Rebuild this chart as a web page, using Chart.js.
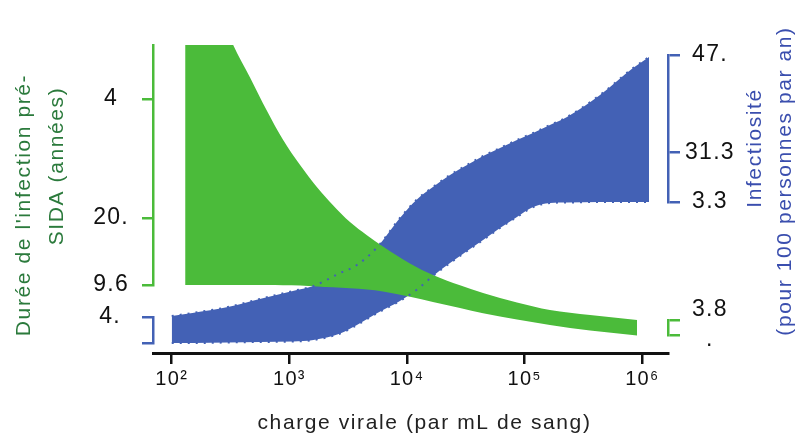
<!DOCTYPE html>
<html>
<head>
<meta charset="utf-8">
<script src="https://cdn.jsdelivr.net/npm/chart.js@4/dist/chart.umd.min.js"></script>
<style>
  html, body { margin: 0; padding: 0; background: #fff; }
</style>
</head>
<body>
<canvas id="chart" width="799" height="441"></canvas>
<script>
// Green band: duration of pre-AIDS infection (years) vs viral load
const greenLoad = [130, 174, 233, 333, 463, 646, 883, 1233, 1718, 2350, 3273, 4560, 6240, 10590, 16600, 28200, 44300, 86000, 164000, 360000, 902000];
const durHigh = [71.5, 63.7, 56.9, 49.6, 44.2, 38.6, 33.8, 29.6, 25.9, 22.9, 20.1, 17.9, 16.0, 13.2, 11.27, 9.55, 8.27, 6.68, 5.43, 4.59, 3.77];
const durLow = [9.6, 9.6, 9.6, 9.6, 9.6, 9.6, 9.55, 9.5, 9.35, 9.22, 9.05, 8.85, 8.52, 7.65, 6.77, 5.77, 4.88, 3.85, 2.93, 2.02, 1.18];

// Blue band: infectiousness (per 100 person-years) vs viral load
const blueLoad = [100, 150, 300, 560, 1070, 1600, 2700, 3750, 5600, 8700, 12000, 16600, 23200, 32400, 44300, 61700, 86000, 118000, 164000, 229000, 437000, 834000, 1140000];
const infHigh = [4.90, 5.39, 6.35, 7.65, 8.94, 9.74, 11.84, 13.13, 16.03, 20.71, 23.61, 25.71, 27.65, 29.26, 30.71, 32.00, 33.29, 34.42, 35.71, 37.00, 40.55, 44.90, 46.68];
const infLow = [0.55, 0.55, 0.63, 0.71, 0.79, 1.03, 2.08, 3.45, 5.39, 7.32, 9.10, 11.35, 13.45, 15.39, 17.16, 19.10, 20.87, 22.48, 23.13, 23.21, 23.29, 23.29, 23.29];

// Axis ticks (labels as printed on the figure)
const xTicks = [1e2, 1e3, 1e4, 1e5, 1e6];
const xTickLabels = ['10²', '10³', '10⁴', '10⁵', '10⁶'];
const durTicks = [40.6, 20.8, 9.6];
const durTickLabels = ['4', '20.', '9.6'];
const durSmallTicks = [3.8, 1.3, 5.47, 0.47];
const durSmallLabels = ['', '', '3.8', '.'];
const infTicks = [47, 31.3, 23.29];
const infTickLabels = ['47.', '31.3', '3.3'];
const infSmallTicks = [4.74, 0.55];
const infSmallLabels = ['4.', ''];

const xTitle = 'charge virale (par mL de sang)';
const durTitle = ["Durée de l'infection pré-", 'SIDA (années)'];
const infTitle = ['Infectiosité', '(pour 100 personnes par an)'];

const FONT = '"Liberation Sans", Arial, sans-serif';
const GREEN = '#4bbb3a';
const BLUE = '#4361b5';
const NONE = 'rgba(0,0,0,0)';

Chart.defaults.font.family = FONT;

function toPoints(xs, ys) {
    return xs.map((x, i) => ({ x: x, y: ys[i] }));
}

function fixedTicks(values) {
    return scale => { scale.ticks = values.map(v => ({ value: v })); };
}

function sideAxis(position, weight, stackWeight, min, max, values, labels, color, pad, tickColor) {
    return {
        type: 'linear',
        position: position,
        stack: position,
        weight: weight,
        stackWeight: stackWeight,
        min: min,
        max: max,
        afterBuildTicks: fixedTicks(values),
        afterFit: s => { s.width = position === 'left' ? 153 : 131; },
        ticks: {
            autoSkip: false,
            crossAlign: 'center',
            padding: pad,
            color: '#111',
            font: { size: 23 },
            callback: (v, i) => labels[i]
        },
        grid: {
            drawOnChartArea: false,
            tickLength: position === 'left' ? 11 : 12,
            lineWidth: 2.5,
            tickWidth: 2.5,
            tickColor: tickColor || color
        },
        border: { color: color, width: 2.5 }
    };
}

function gapAxis(position, weight, stackWeight) {
    return { type: 'linear', position: position, stack: position, weight: weight, stackWeight: stackWeight, display: false };
}

function drawUp(ctx, text, x, y, color) {
    ctx.save();
    ctx.translate(x, y);
    ctx.rotate(-Math.PI / 2);
    ctx.fillStyle = color;
    ctx.fillText(text, 0, 0);
    ctx.restore();
}

// Letter spacing for tick labels + axis titles
const textStyle = {
    id: 'textStyle',
    beforeLayout(chart) { chart.ctx.letterSpacing = '1.3px'; },
    beforeDraw(chart) { chart.ctx.letterSpacing = '1.3px'; },
    afterDraw(chart) {
        const ctx = chart.ctx;
        const a = chart.chartArea;
        ctx.save();
        ctx.font = '21px ' + FONT;
        ctx.letterSpacing = '1.6px';
        ctx.textAlign = 'center';
        ctx.textBaseline = 'middle';
        ctx.fillStyle = '#222';
        ctx.fillText(xTitle, (a.left + a.right) / 2 + 14, a.bottom + 70);
        drawUp(ctx, durTitle[0], a.left - 129, a.top + 160, '#2b7a3c');
        drawUp(ctx, durTitle[1], a.left - 96, a.top + 121, '#2b7a3c');
        drawUp(ctx, infTitle[0], a.right + 87, a.top + 103, '#3a4eae');
        drawUp(ctx, infTitle[1], a.right + 117, a.top + 136, '#3a4eae');
        ctx.restore();
    }
};

// the bands live on short stacked axes, so let them spill over the whole plot area
const greenClip = { left: 0, right: 0, top: 0, bottom: 68 };
const blueClip = { left: 0, right: 0, top: 10, bottom: 151 };

new Chart(document.getElementById('chart').getContext('2d'), {
    type: 'line',
    data: {
        datasets: [
            {
                label: 'Durée max',
                data: toPoints(greenLoad, durHigh),
                yAxisID: 'yDur',
                clip: greenClip,
                backgroundColor: GREEN,
                borderColor: NONE,
                fill: '+1',
                pointRadius: 0,
                cubicInterpolationMode: 'monotone'
            },
            {
                label: 'Durée min',
                data: toPoints(greenLoad, durLow),
                yAxisID: 'yDur',
                clip: greenClip,
                borderColor: NONE,
                fill: false,
                pointRadius: 0,
                cubicInterpolationMode: 'monotone'
            },
            {
                label: 'Infectiosité max',
                data: toPoints(blueLoad, infHigh),
                yAxisID: 'yInf',
                clip: blueClip,
                backgroundColor: BLUE,
                borderColor: BLUE,
                borderWidth: 2,
                borderDash: [2, 6],
                fill: '+1',
                pointRadius: 0,
                cubicInterpolationMode: 'monotone'
            },
            {
                label: 'Infectiosité min',
                data: toPoints(blueLoad, infLow),
                yAxisID: 'yInf',
                clip: blueClip,
                borderColor: BLUE,
                borderWidth: 2,
                borderDash: [2, 6],
                fill: false,
                pointRadius: 0,
                cubicInterpolationMode: 'monotone'
            }
        ]
    },
    options: {
        responsive: false,
        animation: false,
        layout: { padding: { top: 45, left: 0, right: 0, bottom: 0 } },
        plugins: {
            legend: { display: false },
            tooltip: { enabled: false },
            filler: { drawTime: 'beforeDatasetsDraw', propagate: false }
        },
        scales: {
            x: {
                type: 'logarithmic',
                position: 'bottom',
                min: 69.3,
                max: 1.653e6,
                afterBuildTicks: fixedTicks(xTicks),
                afterFit: s => { s.height = 88; },
                ticks: {
                    autoSkip: false,
                    maxRotation: 0,
                    padding: 3,
                    color: '#111',
                    font: { size: 20 },
                    callback: (v, i) => xTickLabels[i]
                },
                grid: { drawOnChartArea: false, tickLength: 11, lineWidth: 2.5, tickWidth: 2.5, tickColor: '#111' },
                border: { color: '#111', width: 3 }
            },
            yDur: sideAxis('left', 4, 240, 9.6, 49.6, durTicks, durTickLabels, GREEN, 13),
            gapL1: gapAxis('left', 3, 32),
            yInfL: sideAxis('left', 2, 26, 0.55, 4.74, infSmallTicks, infSmallLabels, BLUE, 21),
            gapL2: gapAxis('left', 1, 10),
            gapR1: gapAxis('right', 1, 10),
            yInf: sideAxis('right', 2, 147, 23.29, 47, infTicks, infTickLabels, BLUE, 5),
            gapR2: gapAxis('right', 3, 118),
            yDurR: sideAxis('right', 4, 15, 1.3, 3.8, durSmallTicks, durSmallLabels, GREEN, 12,
                c => c.index < 2 ? GREEN : NONE),
            gapR3: gapAxis('right', 5, 18)
        }
    },
    plugins: [textStyle]
});
</script>
</body>
</html>
